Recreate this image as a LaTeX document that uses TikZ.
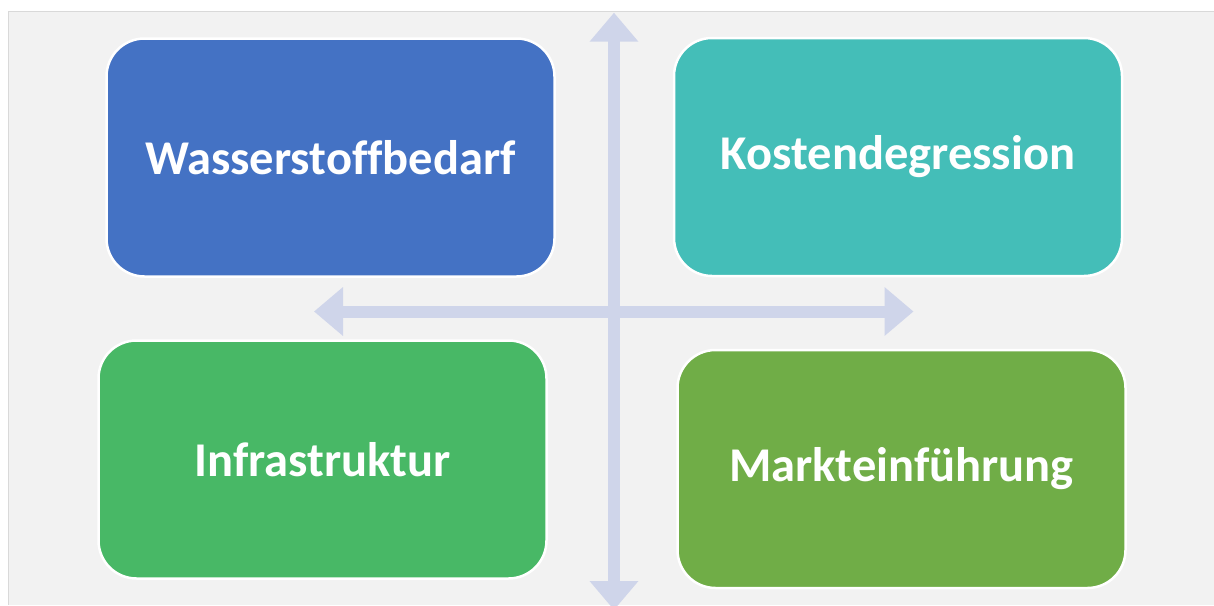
\documentclass[tikz,border=0pt]{standalone}
\usepackage{fontspec}
\setmainfont{Carlito}[Ligatures=NoCommon]
\usepackage{tikz}
\usetikzlibrary{arrows.meta}

\definecolor{bggray}{HTML}{F2F2F2}
\definecolor{bgline}{HTML}{D9D9D9}
\definecolor{axisblue}{HTML}{CFD5EA}
\definecolor{blueH}{HTML}{4472C4}
\definecolor{tealH}{HTML}{44BEB8}
\definecolor{greenH}{HTML}{48B866}
\definecolor{oliveH}{HTML}{70AD47}

\begin{document}
\begin{tikzpicture}[x=1pt,y=-1pt]
	  \tikzset{block/.style= {draw=white, line width=2.5pt, rectangle, rounded corners=38pt, align=center,
	  		minimum width=448pt, minimum height=238pt, text=white,
	  		font=\fontsize{48.5}{58}\selectfont\bfseries},
	  	axis/.style={draw=axisblue, line width=12pt,
	  		{Triangle[length=29pt,width=47pt]}-{Triangle[length=29pt,width=47pt]}},
	  }
	  \useasboundingbox (0,0) rectangle (1214,605);
	  % background panel
	  \fill[bggray] (8.5,11.5) rectangle (1214,605);
	  \draw[bgline, line width=1.2pt] (1214,11.5) -- (8.5,11.5) -- (8.5,605);

	  %% axes
	  \coordinate (north) at (614,12.7);
	  \coordinate (south) at (614,610);
	  \coordinate (west) at (314,311.5);
	  \coordinate (east) at (913.5,311.5);
	  \draw[axis] (south) -- (north);
	  \draw[axis] (west) -- (east);

	  %% quadrants
	  \node [block, fill=blueH]  (wasser) at (330.5,157.5) {Wasserstoffbedarf};
	  \node [block, fill=tealH]  (kosten) at (898,157) {Kostendegression};
	  \node [block, fill=greenH] (infra)  at (322.5,459.5) {Infrastruktur};
	  \node [block, fill=oliveH] (markt)  at (901.5,469) {Markteinführung};
\end{tikzpicture}
\end{document}
